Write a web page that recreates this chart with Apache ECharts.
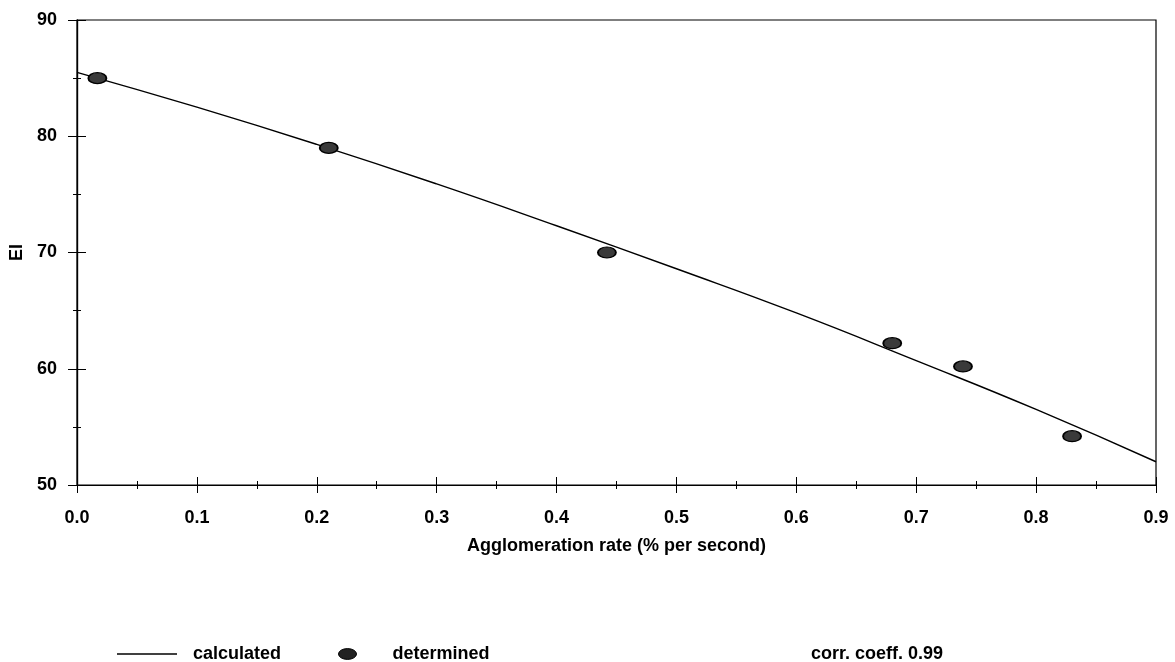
<!DOCTYPE html>
<html>
<head>
<meta charset="utf-8">
<script src="https://cdn.jsdelivr.net/npm/echarts@6/dist/echarts.min.js"></script>
<style>
html, body { margin: 0; padding: 0; background: #fff; }
#main { width: 1175px; height: 662px; }
</style>
</head>
<body>
<div id="main"></div>
<script>
var chart = echarts.init(document.getElementById('main'));

// calculated curve
var calcX = [0, 0.1, 0.2, 0.3, 0.4, 0.5, 0.6, 0.7, 0.8, 0.9];
var calcY = [85.5, 82.5, 79.3, 75.9, 72.3, 68.6, 64.8, 60.7, 56.5, 52.0];
// determined points
var detX = [0.017, 0.21, 0.442, 0.68, 0.739, 0.83];
var detY = [85.0, 79.0, 70.0, 62.2, 60.2, 54.2];

var font = 'Liberation Sans, Arial, sans-serif';
var ink = '#000';
var ellipse = 'path://M0,30A50,30 0 1,1 100,30A50,30 0 1,1 0,30Z';

function pairs(xs, ys) {
    var out = [];
    for (var i = 0; i < xs.length; i++) out.push([xs[i], ys[i]]);
    return out;
}

// two copies of each axis: one with ticks outside, one inside, so ticks cross the line
function xAxisCfg(inside) {
    return {
        type: 'value', position: 'bottom', min: 0, max: 0.9, interval: 0.1,
        axisLine: { show: true, onZero: false, lineStyle: { color: ink, width: 1.2 } },
        axisTick: { show: true, inside: inside, length: 8, lineStyle: { color: ink } },
        minorTick: { show: true, splitNumber: 2, length: 4, lineStyle: { color: ink } },
        splitLine: { show: false },
        axisLabel: {
            show: !inside, margin: 24, color: ink, fontSize: 18, fontWeight: 'bold', fontFamily: font,
            formatter: function (v) { return v.toFixed(1); }
        },
        name: inside ? '' : 'Agglomeration rate (% per second)',
        nameLocation: 'middle', nameGap: 52,
        nameTextStyle: { color: ink, fontSize: 18, fontWeight: 'bold', fontFamily: font }
    };
}
function yAxisCfg(inside) {
    return {
        type: 'value', position: 'left', min: 50, max: 90, interval: 10,
        axisLine: { show: true, onZero: false, lineStyle: { color: ink, width: 1.2 } },
        axisTick: { show: true, inside: inside, length: 9, lineStyle: { color: ink } },
        minorTick: { show: true, splitNumber: 2, length: 4, lineStyle: { color: ink } },
        splitLine: { show: false },
        axisLabel: { show: !inside, margin: 20, color: ink, fontSize: 18, fontWeight: 'bold', fontFamily: font },
        name: inside ? '' : 'EI',
        nameLocation: 'middle', nameGap: 51,
        nameTextStyle: { color: ink, fontSize: 18, fontWeight: 'bold', fontFamily: font }
    };
}

var option = {
    backgroundColor: '#fff',
    animation: false,
    grid: {
        left: 75, right: 19, top: 20, bottom: 177,
        show: true, borderColor: ink, borderWidth: 1.2, backgroundColor: 'transparent'
    },
    xAxis: [xAxisCfg(false), xAxisCfg(true)],
    yAxis: [yAxisCfg(false), yAxisCfg(true)],
    title: {
        text: 'corr. coeff. 0.99', left: 806, top: 640,
        textStyle: { color: ink, fontSize: 18, fontWeight: 'bold', fontFamily: font }
    },
    legend: [{
        data: [{ name: 'calculated', icon: 'rect' }], left: 112, top: 640,
        itemWidth: 60, itemHeight: 1.5,
        itemStyle: { color: ink },
        textStyle: { color: ink, fontSize: 18, fontWeight: 'bold', fontFamily: font, padding: [0, 0, 0, 11] }
    }, {
        data: [{ name: 'determined', icon: ellipse }], left: 333, top: 640,
        itemWidth: 18, itemHeight: 11,
        itemStyle: { color: '#222', borderColor: '#000', borderWidth: 1 },
        textStyle: { color: ink, fontSize: 18, fontWeight: 'bold', fontFamily: font, padding: [0, 0, 0, 31] }
    }],
    series: [{
        name: 'calculated', type: 'line', smooth: true, symbol: 'none',
        data: pairs(calcX, calcY),
        lineStyle: { color: ink, width: 1.4 },
        itemStyle: { color: ink },
        z: 2
    }, {
        name: 'determined', type: 'scatter', symbol: ellipse, symbolSize: [18, 11],
        data: pairs(detX, detY),
        itemStyle: { color: '#3a3a3a', borderColor: '#000', borderWidth: 1.5, opacity: 1 },
        z: 3
    }]
};

chart.setOption(option);
</script>
</body>
</html>
